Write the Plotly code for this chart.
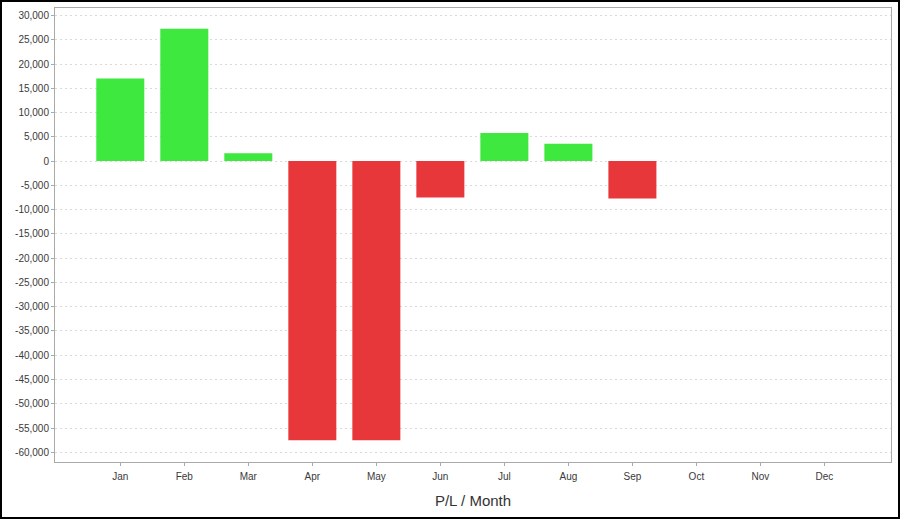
import plotly.graph_objects as go

months = ["Jan", "Feb", "Mar", "Apr", "May", "Jun", "Jul", "Aug", "Sep", "Oct", "Nov", "Dec"]
pl_values = [17000, 27300, 1600, -57500, -57500, -7500, 5800, 3600, -7700, None, None, None]
y_ticks = list(range(-60000, 30001, 5000))

GREEN = "#3EE83E"
RED = "#E8373B"
colors = [GREEN if (v is not None and v >= 0) else RED for v in pl_values]

fig = go.Figure(go.Bar(
    x=months, y=pl_values, marker=dict(color=colors, line=dict(width=0)),
    width=0.75, hoverinfo="x+y",
))

W, H = 900, 519
ml, mr, mt, mb = 55, 9, 8, 57
pw, ph = W - ml - mr, H - mt - mb

fig.update_layout(
    width=W, height=H,
    margin=dict(l=ml, r=mr, t=mt, b=mb, pad=0),
    paper_bgcolor="white", plot_bgcolor="white",
    showlegend=False,
    font=dict(family="Liberation Sans, Arial, sans-serif", size=10, color="#3a3a3a"),
    xaxis=dict(
        type="category", categoryorder="array", categoryarray=months,
        range=[-1.02, 12.04],
        showline=True, linecolor="#aaaaaa", linewidth=1, mirror=True,
        ticks="outside", ticklen=3, tickcolor="#aaaaaa",
        ticklabelstandoff=2,
        showgrid=False, zeroline=False,
        title=dict(text="P/L / Month", font=dict(size=15, color="#333"), standoff=14),
    ),
    yaxis=dict(
        range=[-62000, 31550],
        tickvals=y_ticks, ticktext=[f"{v:,}" for v in y_ticks],
        showline=True, linecolor="#aaaaaa", linewidth=1, mirror=True,
        ticks="outside", ticklen=3, tickcolor="#aaaaaa",
        showgrid=True, gridcolor="#d9d9d9", griddash="2px,3px", gridwidth=1,
        zeroline=False,
    ),
    shapes=[dict(
        type="rect", xref="paper", yref="paper",
        x0=(1 - ml) / pw, x1=(W - 1 - ml) / pw,
        y0=(mt + ph - (H - 1)) / ph, y1=(mt + ph - 1) / ph,
        line=dict(color="black", width=2), layer="above",
    )],
)

fig.write_html(
    "out.html",
    config={"displayModeBar": False},
    post_script="document.body.style.margin='0';document.body.style.overflow='hidden';",
)
